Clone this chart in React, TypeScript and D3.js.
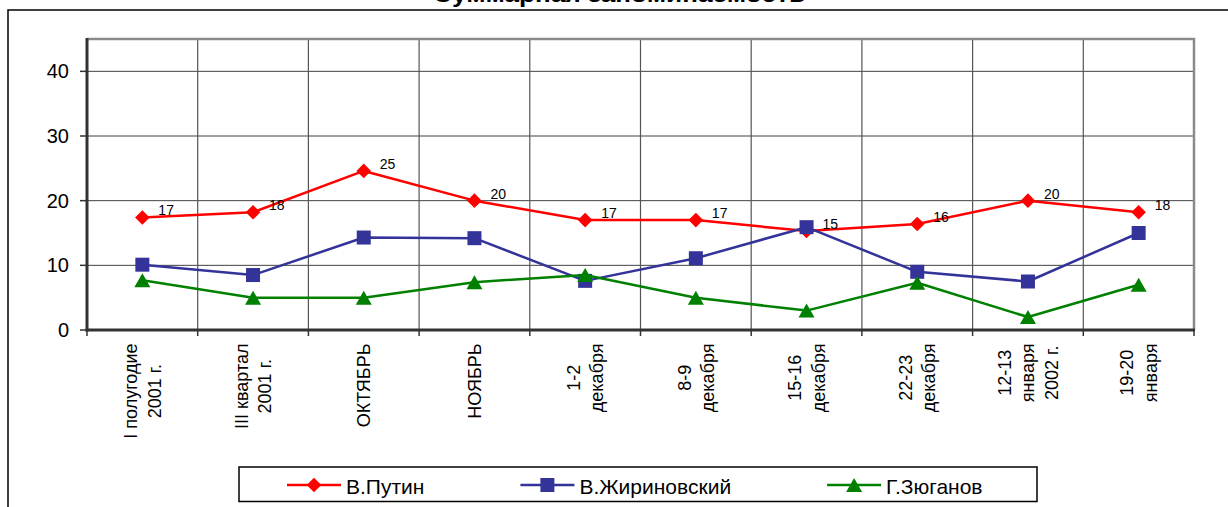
import React, { useEffect, useRef } from "react";
import * as d3 from "d3";

const title = "Суммарная запоминаемость";
const categories: string[][] = [
  ["I полугодие", "2001 г."],
  ["III квартал", "2001 г."],
  ["ОКТЯБРЬ"],
  ["НОЯБРЬ"],
  ["1-2", "декабря"],
  ["8-9", "декабря"],
  ["15-16", "декабря"],
  ["22-23", "декабря"],
  ["12-13", "января", "2002 г."],
  ["19-20", "января"],
];
const putin = [17.4, 18.2, 24.6, 20.0, 17.0, 17.0, 15.3, 16.4, 20.0, 18.2];
const zhirinovsky = [10.1, 8.5, 14.3, 14.2, 7.6, 11.1, 15.9, 9.0, 7.5, 15.0];
const zyuganov = [7.7, 5.0, 5.0, 7.4, 8.5, 5.0, 3.0, 7.3, 2.0, 7.0];
const seriesNames = ["В.Путин", "В.Жириновский", "Г.Зюганов"];
const yTicks = [0, 10, 20, 30, 40];

const FONT = "'Liberation Sans', Arial, sans-serif";

export default function App() {
  const ref = useRef<SVGSVGElement>(null);

  useEffect(() => {
    const svg = d3.select(ref.current!);
    svg.selectAll("*").remove();
    const W = 1228, H = 507;
    const L = 87, R = 1194, T = 39, B = 330;

    const x = d3.scaleBand<number>().domain(d3.range(categories.length)).range([L, R]);
    const cx = (i: number) => (x(i) as number) + x.bandwidth() / 2;
    const y = d3.scaleLinear().domain([0, 45]).range([B, T]);

    svg.append("rect").attr("width", W).attr("height", H).attr("fill", "#fff");
    // chart frame
    svg.append("rect").attr("x", 8).attr("y", 10).attr("width", 1400).attr("height", 700)
      .attr("fill", "none").attr("stroke", "#000").attr("stroke-width", 1.5);

    // title
    svg.append("text").attr("x", 619).attr("y", 1.5).attr("text-anchor", "middle")
      .attr("font-size", 22).attr("font-weight", "bold").attr("font-family", FONT)
      .attr("textLength", 372).attr("lengthAdjust", "spacingAndGlyphs").text(title);

    // horizontal gridlines
    svg.append("g").selectAll("line").data(yTicks.filter(t => t > 0)).join("line")
      .attr("x1", L).attr("x2", R).attr("y1", d => y(d)).attr("y2", d => y(d))
      .attr("stroke", "#404040").attr("stroke-width", 1);
    // vertical gridlines
    const bounds = d3.range(1, categories.length);
    svg.append("g").selectAll("line").data(bounds).join("line")
      .attr("x1", d => x(d) as number).attr("x2", d => x(d) as number)
      .attr("y1", T).attr("y2", B).attr("stroke", "#555").attr("stroke-width", 1.2);

    // plot border top/right
    svg.append("path").attr("d", `M${L},${T}H${R}V${B}`).attr("fill", "none")
      .attr("stroke", "#8a8a8a").attr("stroke-width", 2.5);

    // x tick marks
    svg.append("g").selectAll("line").data(d3.range(0, categories.length + 1)).join("line")
      .attr("x1", d => L + d * x.step()).attr("x2", d => L + d * x.step())
      .attr("y1", B).attr("y2", B + 6).attr("stroke", "#333").attr("stroke-width", 1.5);
    // y tick marks
    svg.append("g").selectAll("line").data(yTicks).join("line")
      .attr("x1", L - 7).attr("x2", L).attr("y1", d => y(d)).attr("y2", d => y(d))
      .attr("stroke", "#333").attr("stroke-width", 1.5);

    // axes
    svg.append("line").attr("x1", L).attr("x2", L).attr("y1", T - 1).attr("y2", B + 1.5)
      .attr("stroke", "#333").attr("stroke-width", 3);
    svg.append("line").attr("x1", L - 1.5).attr("x2", R + 1).attr("y1", B).attr("y2", B)
      .attr("stroke", "#333").attr("stroke-width", 3);

    // y tick labels
    svg.append("g").selectAll("text").data(yTicks).join("text")
      .attr("x", 69).attr("y", d => y(d) + 7).attr("text-anchor", "end")
      .attr("font-size", 20).attr("font-family", FONT).attr("fill", "#000").text(d => d);

    // x labels (rotated, multi-line, lines centered, block top-aligned)
    const fs = 18, lh = 23.5;
    categories.forEach((lines, i) => {
      const g = svg.append("g");
      const texts = lines.map((ln, j) => {
        const bx = cx(i) + (j - (lines.length - 1) / 2) * lh + 0.36 * fs;
        return g.append("text").attr("font-size", fs).attr("font-family", FONT)
          .attr("text-anchor", "middle").attr("data-bx", bx).text(ln);
      });
      const maxLen = d3.max(texts, t => (t.node() as SVGTextElement).getComputedTextLength()) || 0;
      const yc = 343.5 + maxLen / 2;
      texts.forEach(t => {
        const bx = +t.attr("data-bx");
        t.attr("transform", `translate(${bx},${yc}) rotate(-90)`);
      });
    });

    // series
    const diamond = d3.symbol(d3.symbolSquare, 107)();
    const square = d3.symbol(d3.symbolSquare, 196)();
    const triangle = "M0,-7L8,7L-8,7Z";
    const series = [
      { values: putin, color: "#ff0000", path: diamond, rot: 45 },
      { values: zhirinovsky, color: "#333399", path: square, rot: 0 },
      { values: zyuganov, color: "#008000", path: triangle, rot: 0 },
    ];
    const line = d3.line<number>().x((_, i) => cx(i)).y(d => y(d));
    series.forEach(s => {
      svg.append("path").attr("d", line(s.values)).attr("fill", "none")
        .attr("stroke", s.color).attr("stroke-width", 2.5).attr("stroke-linejoin", "round");
      svg.append("g").selectAll("path").data(s.values).join("path")
        .attr("d", s.path as string)
        .attr("transform", (d, i) => `translate(${cx(i)},${y(d)}) rotate(${s.rot})`)
        .attr("fill", s.color);
    });

    // data labels for Putin
    svg.append("g").selectAll("text").data(putin).join("text")
      .attr("x", (_, i) => cx(i) + 16).attr("y", d => y(d) - 2)
      .attr("font-size", 14).attr("font-family", FONT).attr("fill", "#000")
      .text(d => d3.format(".0f")(d));

    // legend
    const lg = svg.append("g");
    lg.append("rect").attr("x", 239).attr("y", 467).attr("width", 798).attr("height", 34.5)
      .attr("fill", "#fff").attr("stroke", "#000").attr("stroke-width", 1.5);
    let lx = 287;
    series.forEach((s, k) => {
      lg.append("line").attr("x1", lx).attr("x2", lx + 54).attr("y1", 485).attr("y2", 485)
        .attr("stroke", s.color).attr("stroke-width", 2.5);
      lg.append("path").attr("d", s.path as string)
        .attr("transform", `translate(${lx + 27},485) rotate(${s.rot})`).attr("fill", s.color);
      const t = lg.append("text").attr("x", lx + 59).attr("y", 493.5).attr("font-size", 21)
        .attr("font-family", FONT).attr("fill", "#000").text(seriesNames[k]);
      const w = (t.node() as SVGTextElement).getComputedTextLength();
      lx += 59 + w + 96;
    });
  }, []);

  return (
    <svg ref={ref} width={1228} height={507}
      style={{ position: "absolute", left: 0, top: 0, fontFamily: FONT }} />
  );
}
